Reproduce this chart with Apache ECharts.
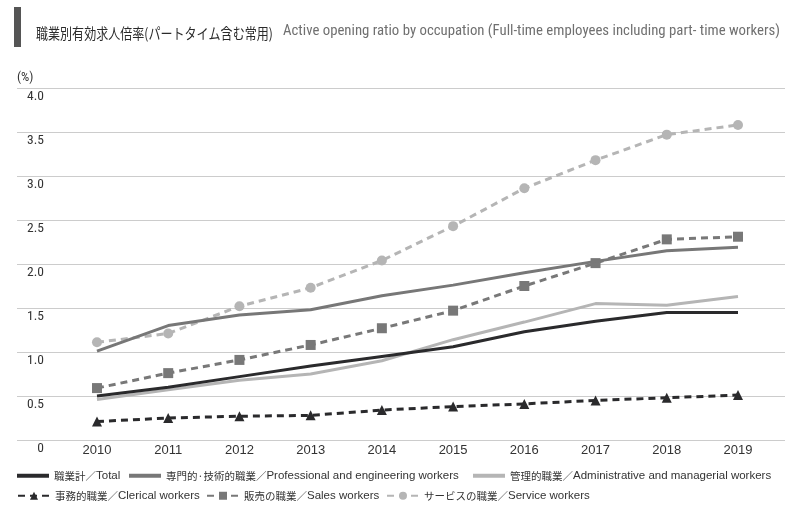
<!DOCTYPE html>
<html>
<head>
<meta charset="utf-8">
<script src="https://cdn.jsdelivr.net/npm/echarts@6/dist/echarts.min.js"></script>
<style>
html,body{margin:0;padding:0;background:#fff;}
#chart{width:800px;height:509px;}
</style>
</head>
<body>
<div id="chart"></div>
<script>
// ---- data ----
var years = [2010, 2011, 2012, 2013, 2014, 2015, 2016, 2017, 2018, 2019];
var yTicks = [0, 0.5, 1.0, 1.5, 2.0, 2.5, 3.0, 3.5, 4.0];
var namesJa = ['職業計', '専門的·技術的職業', '管理的職業', '事務的職業', '販売の職業', 'サービスの職業'];
var namesEn = ['Total', 'Professional and engineering workers', 'Administrative and managerial workers',
               'Clerical workers', 'Sales workers', 'Service workers'];
var total        = [0.50, 0.60, 0.72, 0.84, 0.95, 1.06, 1.23, 1.35, 1.45, 1.45];
var professional = [1.01, 1.30, 1.42, 1.48, 1.64, 1.76, 1.90, 2.03, 2.15, 2.19];
var managerial   = [0.46, 0.57, 0.68, 0.75, 0.90, 1.14, 1.34, 1.55, 1.53, 1.63];
var clerical     = [0.21, 0.25, 0.27, 0.28, 0.34, 0.38, 0.41, 0.45, 0.48, 0.51];
var sales        = [0.59, 0.76, 0.91, 1.08, 1.27, 1.47, 1.75, 2.01, 2.28, 2.31];
var service      = [1.11, 1.21, 1.52, 1.73, 2.04, 2.43, 2.86, 3.18, 3.47, 3.58];

var seriesNames = namesJa.map(function(j, i){ return j + '／' + namesEn[i]; });
function pairs(vals){ return years.map(function(y,i){ return [y, vals[i]]; }); }

var narrow = "'Liberation Sans Narrow','Roboto Condensed','DejaVu Sans Condensed','Noto Sans CJK JP',sans-serif";
var regular = "'Liberation Sans','Noto Sans CJK JP',sans-serif";
var cjk = "'Noto Sans CJK JP',sans-serif";

var styles = [
  {color:'#2a2a2c', type:'solid',  symbol:'none'},
  {color:'#777777', type:'solid',  symbol:'none'},
  {color:'#b5b5b5', type:'solid',  symbol:'none'},
  {color:'#2a2a2c', type:[7,5],    symbol:'triangle'},
  {color:'#787878', type:[7,5],    symbol:'rect'},
  {color:'#b5b5b5', type:[7,5],    symbol:'circle'}
];
var datas = [total, professional, managerial, clerical, sales, service];

var series = datas.map(function(d, i){
  var s = styles[i];
  return {
    name: seriesNames[i],
    type: 'line',
    data: pairs(d),
    symbol: s.symbol,
    symbolSize: 10,
    showSymbol: s.symbol !== 'none',
    lineStyle: {color: s.color, width: 3, type: s.type},
    itemStyle: {color: s.color},
    z: 10 - i,
    animation: false
  };
});

var legendPos = [
  {left: 17,  top: 470},
  {left: 129, top: 470},
  {left: 473, top: 470},
  {left: 17,  top: 490},
  {left: 206, top: 490},
  {left: 386, top: 490}
];
var legends = seriesNames.map(function(n, i){
  var solid = styles[i].symbol === 'none';
  return {
    data: [solid ? {name: n, icon: 'rect'} : n],
    left: legendPos[i].left,
    top: legendPos[i].top,
    padding: 0,
    itemWidth: 32,
    itemHeight: solid ? 4 : 10,
    selectedMode: false,
    formatter: function(){ return '{c|' + namesJa[i] + '／}{e|' + namesEn[i] + '}'; },
    textStyle: {
      fontSize: 11.5, color: '#333', fontFamily: regular,
      rich: {
        c: {fontSize: 10.5, color: '#333', fontFamily: cjk},
        e: {fontSize: 11.5, color: '#333', fontFamily: regular}
      }
    }
  };
});

var chart = echarts.init(document.getElementById('chart'), null, {renderer: 'canvas'});
chart.setOption({
  backgroundColor: '#fff',
  animation: false,
  title: [
    {text: 'Active opening ratio by occupation (Full-time employees including part- time workers)', left: 283, top: 24, padding: 0,
     textStyle: {fontSize: 14.8, fontWeight: 'normal', color: '#707070', fontFamily: narrow}}
  ],
  graphic: [
    {type: 'rect', left: 14, top: 7, shape: {width: 7, height: 40}, style: {fill: '#555'}},
    {type: 'text', x: 36, y: 33, scaleX: 0.83,
     style: {text: '職業別有効求人倍率(パートタイム含む常用)', font: '14.5px ' + cjk, fill: '#2a2a2a',
             textAlign: 'left', textVerticalAlign: 'middle'}}
  ],
  legend: legends,
  grid: {left: 17, right: 15, top: 88, bottom: 69, containLabel: false},
  xAxis: {
    type: 'value',
    min: 2008.877,
    max: 2019.66,
    splitLine: {show: false},
    axisLine: {show: false},
    axisTick: {show: false},
    axisLabel: {
      customValues: years,
      margin: 4,
      fontSize: 13,
      color: '#333',
      fontFamily: regular,
      formatter: function(v){ return String(v); }
    }
  },
  yAxis: {
    type: 'value',
    min: 0, max: 4, interval: 0.5,
    name: '(%)',
    nameLocation: 'end',
    nameGap: 4,
    nameTextStyle: {align: 'left', verticalAlign: 'bottom', padding: [0,0,0,0], fontSize: 13, color: '#333', fontFamily: narrow},
    axisLine: {show: false},
    axisTick: {show: false},
    splitLine: {lineStyle: {color: '#cccccc', width: 1}},
    axisLabel: {
      inside: true,
      margin: 27,
      align: 'right',
      verticalAlign: 'top',
      padding: [2,0,0,0],
      fontSize: 13.5,
      color: '#333',
      fontFamily: narrow,
      formatter: function(v){ return v === 0 ? '0' : v.toFixed(1); }
    }
  },
  series: series
});
</script>
</body>
</html>
